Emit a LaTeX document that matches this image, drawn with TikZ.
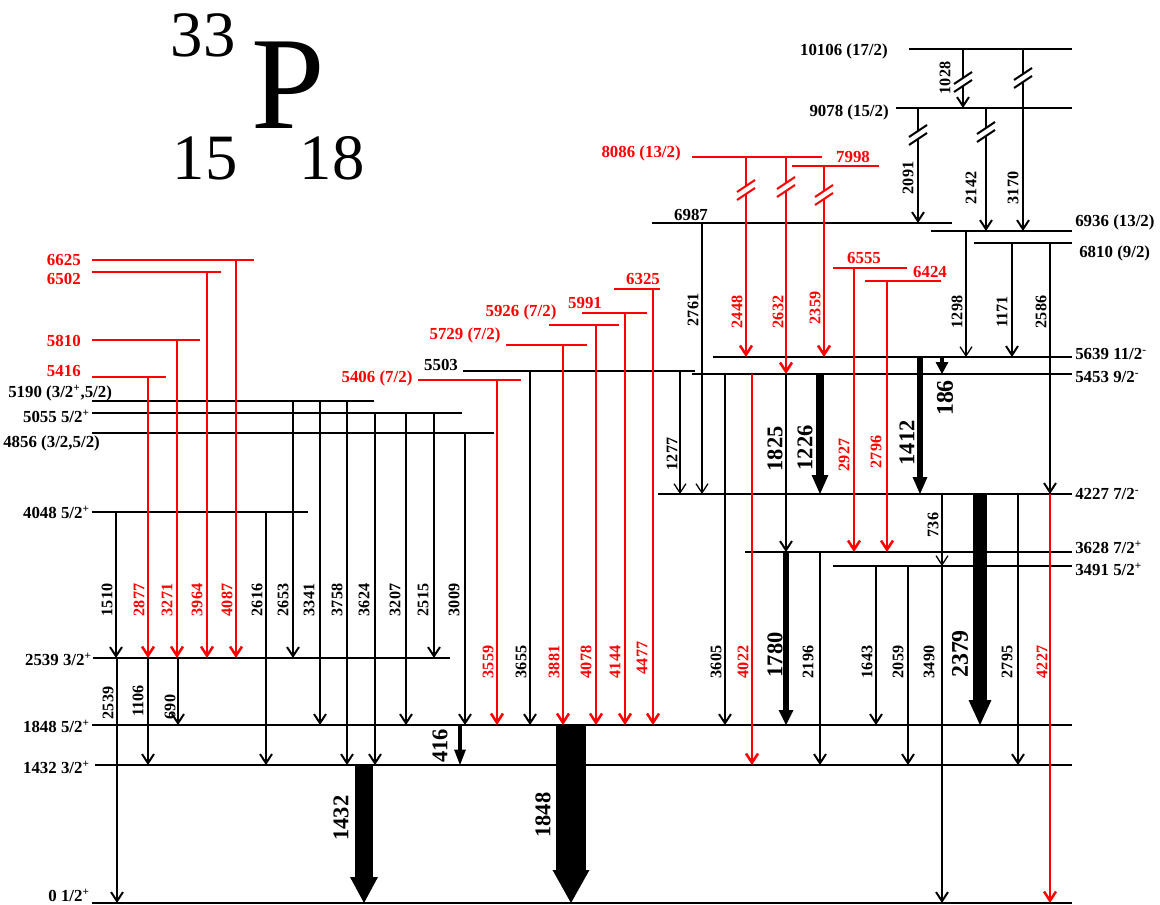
\documentclass[tikz,border=0pt]{standalone}
\usepackage{fontspec}
\setmainfont{Liberation Serif}
\usetikzlibrary{arrows.meta}
\tikzset{lev/.style = {line width=1.4pt}}
\tikzset{rd/.style = {red, line width=1.8pt}}
\tikzset{tn/.style = {line width=0.9pt}}
\tikzset{gam/.style = {line width=1.4pt, -{Straight Barb[length=6.5pt,width=8.5pt]}}}
\tikzset{fat/.style n args = {3}{line width=#1, -{Triangle[width=#2,length=#3,line width=0pt]}}}
\tikzset{glab/.style = {rotate=90, inner sep=0pt, font=\bfseries\fontsize{11.5}{12}\selectfont}}
\tikzset{blab/.style = {rotate=90, inner sep=0pt, font=\bfseries\fontsize{16}{16}\selectfont}}
\tikzset{llab/.style = {inner sep=0pt, font=\bfseries\fontsize{12}{12}\selectfont}}
\tikzset{ttl/.style = {inner sep=0pt, font=\fontsize{#1}{#1}\selectfont}}
\newcommand\lev[5][]{\draw[lev,#1] (#4,#3) coordinate (L#2) -- (#5,#3);}
\newcommand\gam[6][]{\draw[gam,#1] (#2,0 |- L#3) -- (#2,0 |- L#4);
  \node[glab,#1] (g#5) at (#6) {#5};}
\newcommand\brk[3][black]{\fill[white] (#2-3,#3-2) -- (#2+3,#3-6) -- (#2+3,#3+2) -- (#2-3,#3+6) -- cycle;
  \draw[#1, line width=1.4pt] (#2-9,#3+2) -- (#2+9,#3-10) (#2-9,#3+10) -- (#2+9,#3-2);}
\begin{document}
\begin{tikzpicture}[x=0.025cm, y=-0.025cm]
\useasboundingbox (0,0) rectangle (1160,905);

\node[ttl=46] (mass) at (203,35) {33};
\node[ttl=94] (elem) at (288,85) {P};
\node[ttl=46] (prot) at (205,158) {15};
\node[ttl=46] (neut) at (332,158) {18};

% levels
\lev{0}{903}{92}{1072}
\lev{1432}{765}{95}{1072}
\lev{1848}{725}{92}{1072}
\lev{2539}{658}{93}{450}
\lev{4048}{512}{92}{308}
\lev{4856}{433}{92}{494}
\lev{5055}{413}{92}{462}
\lev{5190}{401}{92}{374}
\lev[rd]{5416}{377}{92}{166}
\lev[rd]{5810}{340}{92}{200}
\lev[rd]{6502}{272}{92}{221}
\lev[rd]{6625}{260}{92}{254}
\lev[rd]{5406}{380}{418}{521}
\lev{5503}{371}{463}{695}
\lev[rd]{5729}{345}{506}{587}
\lev[rd]{5926}{325}{549}{619}
\lev[rd]{5991}{313}{582}{647}
\lev[rd]{6325}{289}{614}{660}
\lev{6987}{223}{652}{952}
\lev[rd]{8086}{157}{692}{822}
\lev[rd]{7998}{166}{792}{879}
\lev[rd]{6555}{268}{833}{907}
\lev[rd]{6424}{281}{865}{941}
\lev{10106}{49}{909}{1072}
\lev{9078}{108}{896}{1072}
\lev{6936}{231}{931}{1072}
\lev{6810}{243}{974}{1072}
\lev{5639}{357}{713}{1072}
\lev{5453}{374}{692}{1072}
\lev{4227}{494}{658}{1072}
\lev{3628}{552}{745}{1072}
\lev{3491}{566}{833}{1072}

\node[llab, anchor=east] (n0) at (90,895) {0 1/2\textsuperscript{+}};
\node[llab, anchor=east] (n1432) at (90,767) {1432 3/2\textsuperscript{+}};
\node[llab, anchor=east] (n1848) at (90,726) {1848 5/2\textsuperscript{+}};
\node[llab, anchor=east] (n2539) at (92,659) {2539 3/2\textsuperscript{+}};
\node[llab, anchor=east] (n4048) at (90,512) {4048 5/2\textsuperscript{+}};
\node[llab, anchor=west] (n4856) at (3,443) {4856 (3/2,5/2)};
\node[llab, anchor=east] (n5055) at (90,416) {5055 5/2\textsuperscript{+}};
\node[llab, anchor=west] (n5190) at (8,393) {5190 (3/2\textsuperscript{+},5/2)};
\node[llab, red, anchor=east] (n5416) at (81,371) {5416};
\node[llab, red, anchor=east] (n5810) at (81,341) {5810};
\node[llab, red, anchor=east] (n6502) at (81,279) {6502};
\node[llab, red, anchor=east] (n6625) at (81,260) {6625};
\node[llab, red] (n5406) at (377,378) {5406 (7/2)};
\node[llab] (n5503) at (441,365) {5503};
\node[llab, red] (n5729) at (465,335) {5729 (7/2)};
\node[llab, red] (n5926) at (521,312) {5926 (7/2)};
\node[llab, red] (n5991) at (585,303) {5991};
\node[llab, red] (n6325) at (643,279) {6325};
\node[llab] (n6987) at (691,215) {6987};
\node[llab, red, anchor=east] (n8086) at (681,153) {8086 (13/2)};
\node[llab, red] (n7998) at (853,157) {7998};
\node[llab, red] (n6555) at (864,258) {6555};
\node[llab, red] (n6424) at (930,272) {6424};
\node[llab, anchor=east] (n10106) at (888,51) {10106 (17/2)};
\node[llab, anchor=east] (n9078) at (889,112) {9078 (15/2)};
\node[llab, anchor=west] (n6936) at (1075,222) {6936 (13/2)};
\node[llab, anchor=west] (n6810) at (1079,253) {6810 (9/2)};
\node[llab, anchor=west] (n5639) at (1075,354) {5639 11/2\textsuperscript{-}};
\node[llab, anchor=west] (n5453) at (1075,377) {5453 9/2\textsuperscript{-}};
\node[llab, anchor=west] (n4227) at (1075,494) {4227 7/2\textsuperscript{-}};
\node[llab, anchor=west] (n3628) at (1075,547) {3628 7/2\textsuperscript{+}};
\node[llab, anchor=west] (n3491) at (1075,569) {3491 5/2\textsuperscript{+}};

% transitions
\gam{116}{4048}{2539}{1510}{107,600}
\gam{266}{4048}{1432}{2616}{257,600}
\gam{293}{5190}{2539}{2653}{283,600}
\gam{320}{5190}{1848}{3341}{309,600}
\gam{347}{5190}{1432}{3758}{337,600}
\gam{375}{5055}{1432}{3624}{364,600}
\gam{406}{5055}{1848}{3207}{395,600}
\gam{434}{5055}{2539}{2515}{423,600}
\gam{465}{4856}{1848}{3009}{454,600}
\gam{117}{2539}{0}{2539}{108,703}
\gam{148}{2539}{1432}{1106}{138,701}
\gam{178}{2539}{1848}{690}{170,707}
\gam[rd]{148}{5416}{2539}{2877}{139,600}
\gam[rd]{177}{5810}{2539}{3271}{167,600}
\gam[rd]{207}{6502}{2539}{3964}{197,600}
\gam[rd]{236}{6625}{2539}{4087}{227,600}

\gam[rd]{497}{5406}{1848}{3559}{488,662}
\gam{530}{5503}{1848}{3655}{521,662}
\gam[rd]{563}{5729}{1848}{3881}{554,662}
\gam[rd]{596}{5926}{1848}{4078}{586,662}
\gam[rd]{625}{5991}{1848}{4144}{615,662}
\gam[rd]{653}{6325}{1848}{4477}{642,658}

\gam[tn]{680}{5503}{4227}{1277}{672,454}
\gam[tn]{702}{6987}{4227}{2761}{693,310}
\gam{725}{5453}{1848}{3605}{716,662}
\gam[rd]{752}{5453}{1432}{4022}{743,662}
\gam[rd]{746}{8086}{5639}{2448}{737,312}
\gam[rd]{786}{8086}{5453}{2632}{778,312}
\gam[rd]{824}{7998}{5639}{2359}{815,308}
\gam[rd]{854}{6555}{3628}{2927}{844,455}
\gam[rd]{887}{6424}{3628}{2796}{876,452}
\gam{820}{3628}{1432}{2196}{808,662}
\gam{876}{3491}{1848}{1643}{867,662}
\gam{908}{3491}{1432}{2059}{898,662}
\gam{942}{3491}{0}{3490}{929,662}
\gam[tn]{942}{4227}{3491}{736}{933,525}
\gam{1018}{4227}{1432}{2795}{1007,662}
\gam[rd]{1050}{4227}{0}{4227}{1042,662}
\gam[tn]{966}{6936}{5639}{1298}{957,312}
\gam{1012}{6810}{5639}{1171}{1002,312}
\gam{1050}{6810}{4227}{2586}{1041,312}
\gam{918}{9078}{6987}{2091}{908,178}
\gam{986}{9078}{6936}{2142}{971,188}
\gam{1023}{10106}{6936}{3170}{1013,188}
\gam{963}{10106}{9078}{1028}{945,78}

\draw[gam] (786,0 |- L5453) -- (786,0 |- L3628);
\node[blab] (g1825) at (775,449) {1825};

% strong transitions
\draw[fat={5pt}{12pt}{13.5pt}] (820,0 |- L5453) -- (820,0 |- L4227);
\node[blab] (g1226) at (805,448) {1226};
\draw[fat={4.3pt}{10.6pt}{12pt}] (920,0 |- L5639) -- (920,0 |- L4227);
\node[blab] (g1412) at (907,443) {1412};
\draw[fat={2.8pt}{9.2pt}{8.5pt}] (942,0 |- L5639) -- (942,0 |- L5453);
\node[blab, font=\bfseries\fontsize{17}{17}\selectfont] (g186) at (945,398) {186};
\draw[fat={3.9pt}{10.6pt}{10.6pt}] (786,0 |- L3628) -- (786,0 |- L1848);
\node[blab] (g1780) at (775,655) {1780};
\draw[fat={9.9pt}{16.3pt}{17.7pt}] (980,0 |- L4227) -- (980,0 |- L1848);
\node[blab, font=\bfseries\fontsize{17}{17}\selectfont] (g2379) at (960,654) {2379};
\draw[fat={2.3pt}{8.5pt}{11pt}] (460,0 |- L1848) -- (460,0 |- L1432);
\node[blab] (g416) at (440,746) {416};
\draw[fat={12.8pt}{19.8pt}{18.4pt}] (364,0 |- L1432) -- (364,0 |- L0);
\node[blab] (g1432) at (341,818) {1432};
\draw[fat={21.3pt}{26.2pt}{23.4pt}] (571,0 |- L1848) -- (571,0 |- L0);
\node[blab] (g1848) at (543,815) {1848};

\brk{963}{82}
\brk{1023}{78}
\brk{918}{135}
\brk{986}{132}
\brk[red]{746}{190}
\brk[red]{786}{187}
\brk[red]{824}{195}
\end{tikzpicture}
\end{document}
